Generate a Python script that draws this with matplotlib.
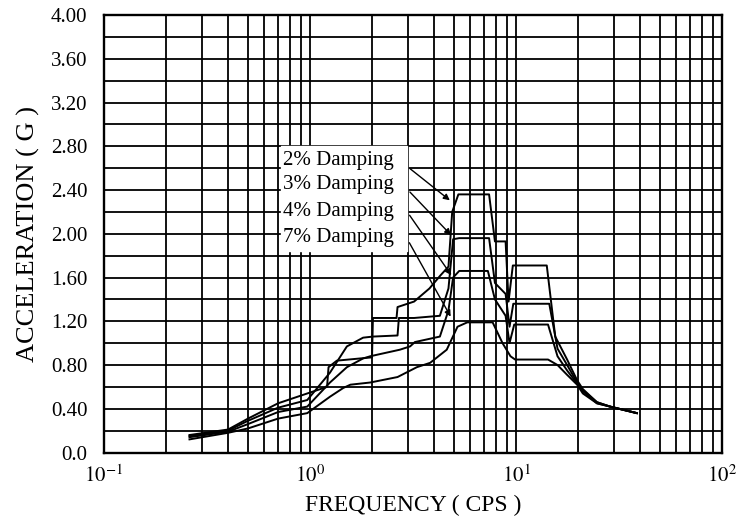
import numpy as np
import matplotlib
matplotlib.use("Agg")
import matplotlib.pyplot as plt
from matplotlib.ticker import FixedLocator, LogLocator, NullFormatter

plt.rcParams["font.family"] = ["Liberation Serif", "DejaVu Serif"]
plt.rcParams["mathtext.fontset"] = "stix"

# Response spectra (frequency in cps, acceleration in g)
f2 = [0.26, 0.40, 0.50, 0.70, 0.97, 1.21, 1.23, 1.35, 2.00, 2.02, 2.63, 2.66, 3.20, 3.80, 4.30, 4.70, 4.90, 5.25, 7.40, 7.90, 8.90, 9.20, 9.65, 14.1, 15.5, 17.7, 19.8, 21.1, 24.7, 28.6, 38.6]
a2 = [0.16, 0.21, 0.31, 0.45, 0.54, 0.60, 0.78, 0.84, 0.87, 1.23, 1.23, 1.33, 1.38, 1.50, 1.62, 1.70, 2.20, 2.36, 2.36, 1.93, 1.93, 1.38, 1.71, 1.71, 1.06, 0.85, 0.66, 0.58, 0.46, 0.42, 0.36]

f3 = [0.26, 0.40, 0.50, 0.70, 0.97, 1.25, 1.51, 1.81, 2.02, 2.66, 2.70, 3.20, 4.27, 4.70, 4.95, 5.30, 7.40, 7.90, 8.90, 9.30, 9.70, 14.5, 15.9, 17.7, 19.8, 21.1, 24.7, 28.6, 38.6]
a3 = [0.15, 0.20, 0.29, 0.41, 0.48, 0.73, 0.97, 1.05, 1.06, 1.07, 1.23, 1.23, 1.25, 1.50, 1.95, 1.96, 1.96, 1.55, 1.45, 1.15, 1.36, 1.36, 0.95, 0.80, 0.64, 0.57, 0.46, 0.42, 0.36]

f4 = [0.26, 0.40, 0.50, 0.70, 0.97, 1.25, 1.51, 1.81, 1.96, 2.73, 3.06, 3.23, 4.27, 4.70, 4.95, 5.30, 7.30, 7.90, 8.90, 9.30, 9.80, 14.3, 15.9, 17.7, 19.8, 21.1, 24.7, 28.6, 38.6]
a4 = [0.14, 0.19, 0.26, 0.37, 0.42, 0.64, 0.78, 0.86, 0.88, 0.94, 0.97, 1.01, 1.06, 1.30, 1.60, 1.66, 1.66, 1.40, 1.25, 1.00, 1.17, 1.17, 0.88, 0.75, 0.63, 0.56, 0.45, 0.42, 0.36]

f7 = [0.26, 0.40, 0.50, 0.70, 0.97, 1.25, 1.45, 1.57, 1.96, 2.66, 3.30, 3.83, 4.61, 5.20, 5.80, 7.70, 8.60, 9.40, 9.90, 14.3, 15.9, 17.7, 19.8, 21.1, 24.7, 28.6, 38.6]
a7 = [0.12, 0.18, 0.22, 0.31, 0.36, 0.51, 0.59, 0.62, 0.64, 0.69, 0.78, 0.82, 0.94, 1.15, 1.19, 1.19, 1.00, 0.88, 0.85, 0.85, 0.80, 0.71, 0.62, 0.54, 0.45, 0.42, 0.36]

# Label text, where its arrow leaves the text and where it points at the curve
labels = ["2% Damping", "3% Damping", "4% Damping", "7% Damping"]
label_y = [2.67, 2.45, 2.20, 1.97]
arrow_from = [(2.99, 2.61), (2.99, 2.40), (2.99, 2.19), (2.99, 1.94)]
arrow_to = [(4.89, 2.29), (4.94, 1.97), (4.94, 1.60), (4.89, 1.22)]

yticks = np.arange(0, 4.01, 0.4)
ytick_labels = ["0.0"] + ["%.2f" % v for v in yticks[1:]]

fig = plt.figure(figsize=(7.37, 5.29), dpi=100)
ax = fig.add_axes([0.1411, 0.1446, 0.8386, 0.8270])

for f, a in [(f2, a2), (f3, a3), (f4, a4), (f7, a7)]:
    ax.plot(f, a, color="black", lw=1.4, zorder=3)

ax.set_xscale("log")
ax.set_xlim(0.1, 100)
ax.set_ylim(0, 4.0)

ax.xaxis.set_major_locator(FixedLocator([0.1, 1, 10, 100]))
ax.xaxis.set_minor_locator(LogLocator(base=10, subs=np.arange(2, 10)))
ax.xaxis.set_minor_formatter(NullFormatter())
ax.set_xticklabels([r"$10^{-1}$", r"$10^{0}$", r"$10^{1}$", r"$10^{2}$"])
ax.set_yticks(yticks)
ax.set_yticklabels(ytick_labels)
ax.yaxis.set_minor_locator(FixedLocator(np.arange(0.2, 4.0, 0.4)))

ax.grid(which="both", color="black", lw=1.3)
ax.tick_params(which="both", length=0, labelsize=15, colors="black")
ax.tick_params(axis="x", pad=9)
ax.tick_params(axis="y", pad=12)
for s in ax.spines.values():
    s.set_linewidth(1.7)

ax.set_xlabel("FREQUENCY ( CPS )", fontsize=17, labelpad=6)
ax.set_ylabel("ACCELERATION ( G )", fontsize=19, labelpad=8)

# white box behind the damping labels
ax.fill_between([0.72, 2.95], 1.84, 2.80, color="white", zorder=2.5)
for txt, y, p0, p1 in zip(labels, label_y, arrow_from, arrow_to):
    ax.text(0.74, y, txt, fontsize=15, va="center", ha="left", zorder=4)
    ax.annotate("", xy=p1, xytext=p0,
                arrowprops=dict(arrowstyle="-|>", color="black", lw=1.0,
                                mutation_scale=9), zorder=4)

fig.savefig("out.png", dpi=100)
